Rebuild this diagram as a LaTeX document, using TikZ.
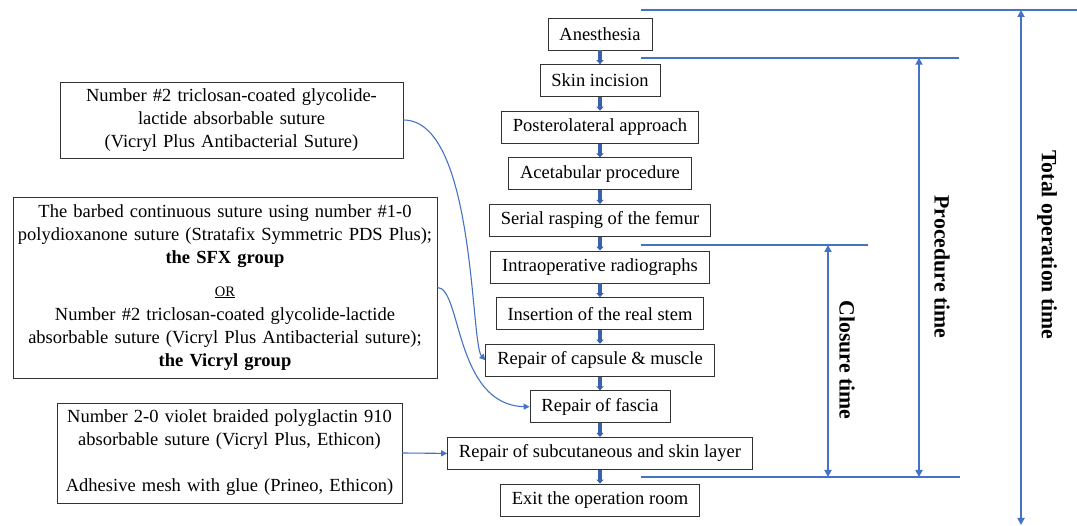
\documentclass[tikz,border=0pt]{standalone}
\usepackage{fontspec}
\setmainfont{Liberation Serif}
\usetikzlibrary{arrows.meta,positioning,calc}
\definecolor{lineblue}{HTML}{4472C4}
\definecolor{flowblue}{HTML}{3A62AC}
\definecolor{boxgray}{HTML}{333333}

\begin{document}
\begin{tikzpicture}[
  x=1pt,y=-1pt,
  node distance=13.7pt,
  every node/.style={font=\fontsize{18.5}{23}\selectfont},
  stepbox/.style={draw=boxgray,line width=0.9pt,minimum height=32pt,inner xsep=11.4pt,inner ysep=0pt},
  notebox/.style={draw=boxgray,line width=0.9pt,align=center,inner xsep=4pt},
  flow/.style={-{Triangle[length=4pt,width=7pt]},line width=3.2pt,draw=flowblue},
  feed/.style={-{Triangle[length=6pt,width=6pt]},line width=1.1pt,draw=lineblue},
  limit/.style={line width=2pt,draw=lineblue},
  span/.style={{Triangle[length=7pt,width=7pt]}-{Triangle[length=7pt,width=7pt]},line width=2pt,draw=lineblue},
  spanlabel/.style={rotate=-90,font=\fontsize{21.8}{26}\selectfont\bfseries}
]
\useasboundingbox (0,0) rectangle (1077,526);
% main steps of the operation
\node[stepbox] (anesthesia) at (600,34) {Anesthesia};
\node[stepbox,below=of anesthesia] (incision) {Skin incision};
\node[stepbox,below=of incision] (approach) {Posterolateral approach};
\node[stepbox,below=of approach] (acetabulum) {Acetabular procedure};
\node[stepbox,below=of acetabulum] (rasping) {Serial rasping of the femur};
\node[stepbox,below=of rasping] (radiographs) {Intraoperative radiographs};
\node[stepbox,below=of radiographs] (stem) {Insertion of the real stem};
\node[stepbox,below=of stem] (capsule) {Repair of capsule \& muscle};
\node[stepbox,below=of capsule] (fascia) {Repair of fascia};
\node[stepbox,below=of fascia] (skinlayer) {Repair of subcutaneous and skin layer};
\node[stepbox,below=of skinlayer] (exitroom) {Exit the operation room};
\foreach \a/\b in {anesthesia/incision,incision/approach,approach/acetabulum,acetabulum/rasping,rasping/radiographs,radiographs/stem,stem/capsule,capsule/fascia,fascia/skinlayer,skinlayer/exitroom}
  \draw[flow] (\a) -- (\b);

% suture notes
\node[notebox,minimum width=343pt,minimum height=76pt,text width=330pt] (vicrylnote) at (231.5,120)
  {Number \#2 triclosan-coated glycolide-\\lactide absorbable suture\\(Vicryl Plus Antibacterial Suture)};
\node[notebox,minimum width=424pt,minimum height=181pt,text width=416pt] (barbednote) at (225,287.5)
  {The barbed continuous suture using number \#1-0\\
   polydioxanone suture (Stratafix Symmetric PDS Plus);\\
   \textbf{the SFX group}\\[10pt]
   {\fontsize{14.5}{16}\selectfont\underline{OR}}\\[1.5pt]
   Number \#2 triclosan-coated glycolide-lactide\\
   absorbable suture (Vicryl Plus Antibacterial suture);\\
   \textbf{the Vicryl group}};
\node[notebox,minimum width=345pt,minimum height=100pt,text width=336pt] (closurenote) at (229.5,453)
  {Number 2-0 violet braided polyglactin 910\\
   absorbable suture (Vicryl Plus, Ethicon)\\[23pt]
   Adhesive mesh with glue (Prineo, Ethicon)};
\draw[feed] (vicrylnote.east) .. controls +(72,0) and +(-15,-16) .. (capsule.west);
\draw[feed] (barbednote.east) .. controls +(24,0) and +(-75,-2) .. (fascia.west);
\draw[feed] (closurenote.east) -- (skinlayer.west);

% time spans
\coordinate (startL) at (641,10);
\coordinate (startR) at (1077,10);
\coordinate (procL) at (641,57.7);
\coordinate (procR) at (959,57.7);
\coordinate (closL) at (641,245);
\coordinate (closR) at (868,245);
\coordinate (endL) at (641,477);
\coordinate (endR) at (960,477);
\draw[limit] (startL) -- (startR);
\draw[limit] (procL) -- (procR);
\draw[limit] (closL) -- (closR);
\draw[limit] (endL) -- (endR);
\coordinate (totaltop) at (1021,10);
\coordinate (totalbot) at (1021,525);
\coordinate (proctop) at (919,57.7);
\coordinate (procbot) at (919,477);
\coordinate (clostop) at (828,245);
\coordinate (closbot) at (828,477);
\draw[span] (totaltop) -- (totalbot);
\draw[span] (proctop) -- (procbot);
\draw[span] (clostop) -- (closbot);
\node[spanlabel] (totallabel) at (1047,245) {Total operation time};
\node[spanlabel] (proclabel) at (942,267) {Procedure time};
\node[spanlabel] (closlabel) at (847,360) {Closure time};
\end{tikzpicture}
\end{document}
